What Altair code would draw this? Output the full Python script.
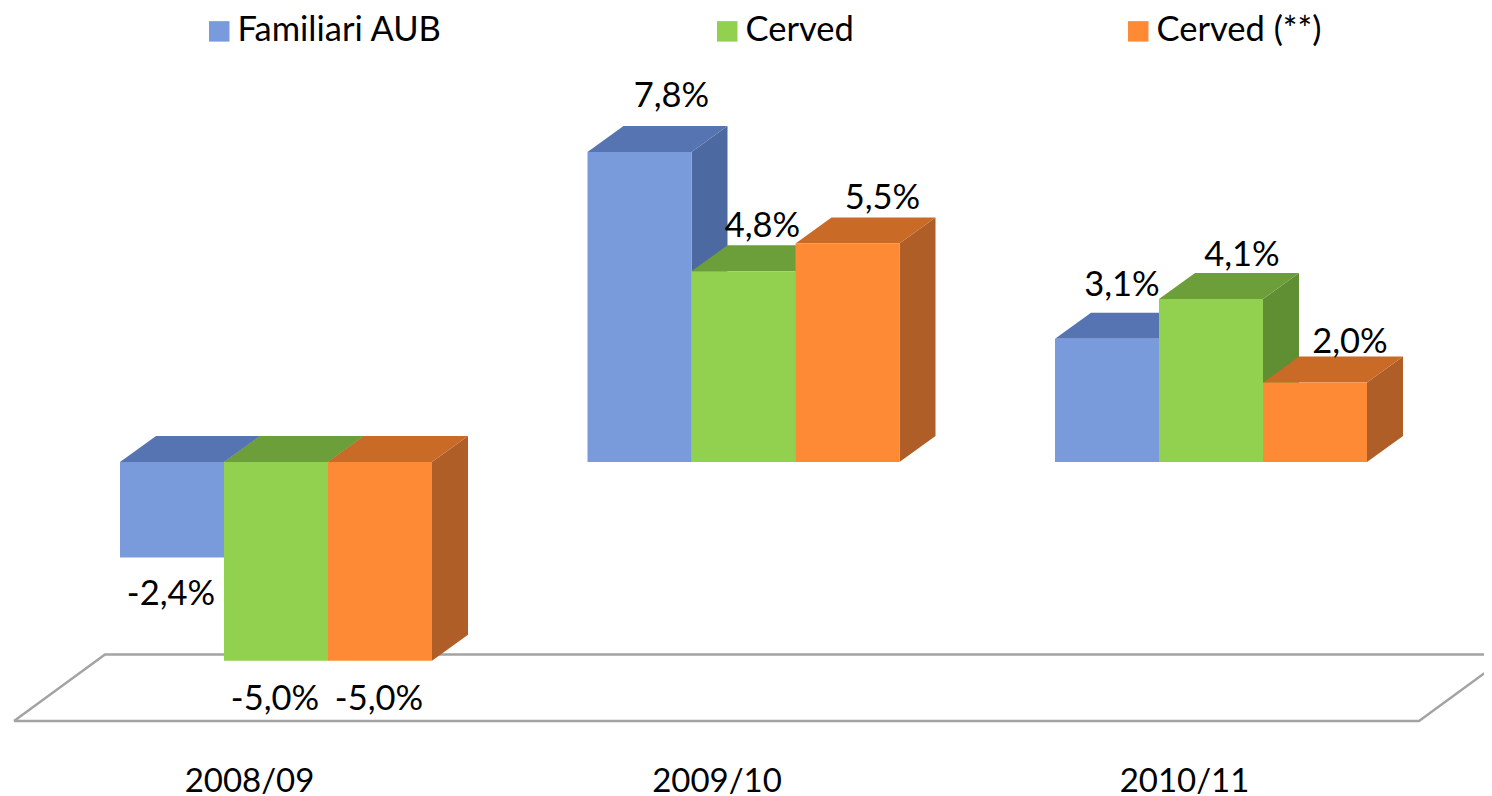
import altair as alt
import pandas as pd

# ---- values ----
years = ["2008/09", "2009/10", "2010/11"]
series = ["Familiari AUB", "Cerved", "Cerved (**)"]
values = {
    "Familiari AUB": [-2.4, 7.8, 3.1],
    "Cerved": [-5.0, 4.8, 4.1],
    "Cerved (**)": [-5.0, 5.5, 2.0],
}
front_colors = ["#7A9BDB", "#92D050", "#FF8A35"]
top_colors = ["#5674B2", "#6C9E3A", "#C96A27"]
side_colors = ["#4D69A2", "#5F8F32", "#AE5E26"]

# ---- layout, in pixels of the picture ----
W, H = 1476, 780
STEP, BAR = 467.5, 104.0
PX_PER_PCT = 39.75
ZERO_Y = 462 - 8
FIRST_X = 120 - 8
DEPTH_X, DEPTH_Y = 36.0, 26.0
LABEL_CENTER = 249 - 120
FS = 34.5
FS_AXIS = 33
FONT = "Lato"
# label nudge from the bar's end: (right, away from the bar), pixels
nudges = {
    "Familiari AUB": [(-1, 38), (32, 55), (15, 53)],
    "Cerved": [(-1, 39), (19, 44), (31, 43)],
    "Cerved (**)": [(-1, 39), (35, 44), (35, 40)],
}

ux = lambda px: px / STEP
uy = lambda px: px / PX_PER_PCT
x_scale = alt.Scale(domain=[ux(-FIRST_X), ux(W - FIRST_X)], range=[0, W], nice=False, zero=False)
y_scale = alt.Scale(domain=[uy(ZERO_Y - H), uy(ZERO_Y)], range=[H, 0], nice=False, zero=False)

tick_vals = [i + ux(LABEL_CENTER) for i in range(len(years))]
label_expr = "{}[round(datum.value - {})]".format(str(years), ux(LABEL_CENTER))
x_axis = alt.Axis(values=tick_vals, labelExpr=label_expr, title=None, ticks=False, domain=False,
                  grid=False, labelFontSize=FS_AXIS, labelFont=FONT, labelColor="#000000",
                  labelOverlap=False, labelFlush=False, labelBound=False, labelPadding=0,
                  labelAngle=0, offset=-23)
X = lambda f: alt.X(f, type="quantitative", scale=x_scale, axis=x_axis)
Y = lambda f: alt.Y(f, type="quantitative", scale=y_scale, axis=None)

fronts, sides, tops, labels = [], [], [], []
for si, s in enumerate(series):
    for gi, v in enumerate(values[s]):
        x0 = gi + ux(si * BAR)
        x1 = x0 + ux(BAR)
        dx, dy = ux(DEPTH_X), uy(DEPTH_Y)
        top = max(v, 0.0)
        bot = min(v, 0.0)
        fronts.append(dict(series=s, x0=x0, x1=x1, y0=bot, y1=top))
        fid = f"{s}-{gi}"
        sides += [dict(id=fid, shade=side_colors[si], x=x1, y0=bot, y1=top),
                  dict(id=fid, shade=side_colors[si], x=x1 + dx, y0=bot + dy, y1=top + dy)]
        tops += [dict(id=fid, shade=top_colors[si], y=top, x0=x0, x1=x1),
                 dict(id=fid, shade=top_colors[si], y=top + dy, x0=x0 + dx, x1=x1 + dx)]
        nx, ny = nudges[s][gi]
        sign = 1 if v >= 0 else -1
        labels.append(dict(x=(x0 + x1) / 2 + ux(nx), y=v + sign * uy(ny),
                           text=f"{v:.1f}%".replace(".", ",")))

floor_level = uy(ZERO_Y - (654.5 - 8))
floor_front = uy(ZERO_Y - (721 - 8))
floor_x = [14 - 8, 105 - 8, 1510 - 8, 1419 - 8, 14 - 8]
floor_y = [floor_front, floor_level, floor_level, floor_front, floor_front]
floor = pd.DataFrame({"x": [ux(p - FIRST_X) for p in floor_x], "y": floor_y, "o": range(5)})

floor_layer = alt.Chart(floor).mark_line(color="#A3A3A3", strokeWidth=2.4, clip=True).encode(
    x=X("x"), y=Y("y"), order="o:Q")
side_layer = alt.Chart(pd.DataFrame(sides)).mark_area().encode(
    x=X("x"), y=Y("y0"), y2="y1", detail="id:N", color=alt.Color("shade:N", scale=None))
top_layer = alt.Chart(pd.DataFrame(tops)).mark_area(orient="horizontal").encode(
    y=Y("y"), x=X("x0"), x2="x1", detail="id:N", color=alt.Color("shade:N", scale=None))
front_layer = alt.Chart(pd.DataFrame(fronts)).mark_rect().encode(
    x=X("x0"), x2="x1", y=Y("y0"), y2="y1",
    color=alt.Color("series:N", sort=series,
                    scale=alt.Scale(domain=series, range=front_colors),
                    legend=alt.Legend(orient="none", legendX=194, legendY=6, direction="horizontal",
                                      columns=3, columnPadding=267, title=None, symbolType="square",
                                      symbolSize=420, symbolStrokeWidth=0, labelFontSize=FS,
                                      labelFont=FONT, labelColor="#000000", labelOffset=1,
                                      labelLimit=400)))
label_layer = alt.Chart(pd.DataFrame(labels)).mark_text(
    font=FONT, fontSize=FS, color="#000000", baseline="middle", align="center").encode(
    x=X("x"), y=Y("y"), text="text:N")

chart = alt.layer(floor_layer, side_layer, top_layer, front_layer, label_layer).resolve_scale(
    color="independent").properties(
    width=W, height=H, padding=0, background="#FFFFFF"
).configure_view(stroke=None)

chart.save("out.html", embed_options={"renderer": "svg", "actions": False})
